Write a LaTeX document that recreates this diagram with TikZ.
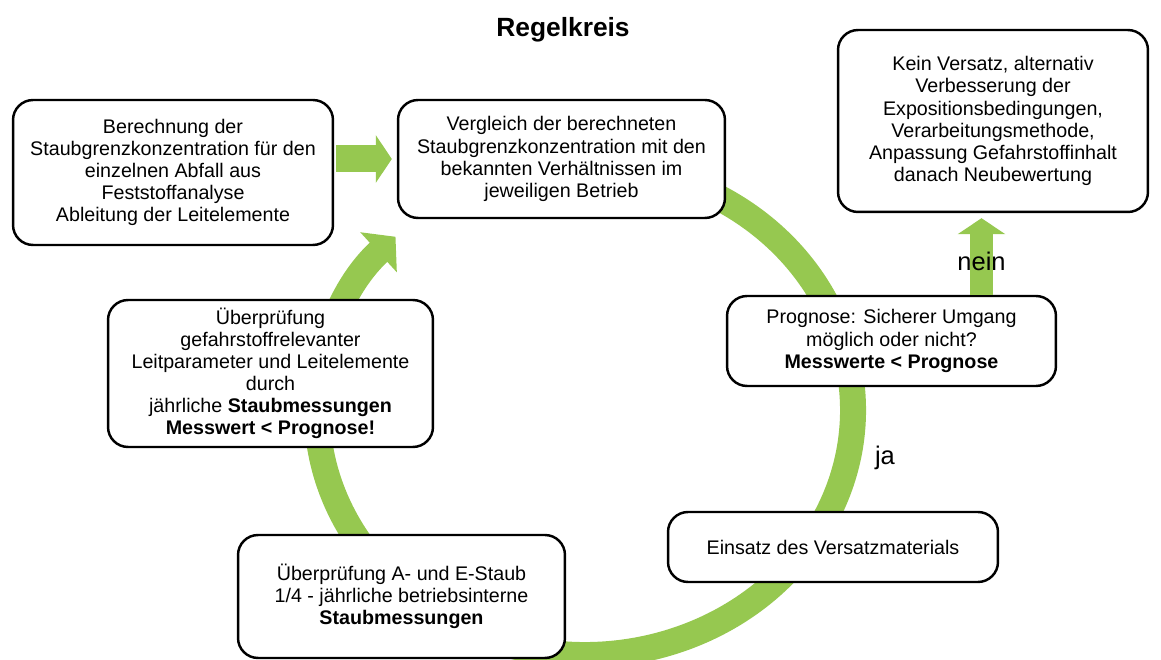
\documentclass[tikz,border=0pt]{standalone}
\usepackage{fontspec}
\setmainfont{Liberation Sans}
\usetikzlibrary{arrows.meta,calc}
\definecolor{ringgreen}{RGB}{150,200,80}

\begin{document}
\begin{tikzpicture}[
    x=0.02cm, y=0.02cm,
    box/.style={rectangle, draw, line width=1.4pt, rounded corners=0.4cm, fill=white, align=center, font=\fontsize{11.2}{12.6}\selectfont},
    ring/.style={draw=ringgreen, line width=0.52cm, -{Triangle[length=0.46cm, width=1.06cm]}},
    blockarrow/.style={draw=ringgreen, line width=0.54cm, -{Triangle[length=0.32cm, width=0.94cm]}},
    answer/.style={font=\fontsize{14.5}{16}\selectfont}
]
    \useasboundingbox (0,0) rectangle (1161,660);

    % Title
    \node[font=\bfseries\fontsize{15}{18}\selectfont] (title) at (563,630) {Regelkreis};

    % Control loop
    \coordinate (loop) at (585,250);
    \draw[ring] (loop) ++(62:268 and 245) arc[start angle=62, end angle=-225, x radius=268, y radius=245];

    % Steps of the loop
    \node[box, minimum width=6.4cm, minimum height=2.9cm] (berech) at (173,487.5) {Berechnung der\\Staubgrenzkonzentration für den\\einzelnen Abfall aus\\Feststoffanalyse\\Ableitung der Leitelemente};
    \node[box, minimum width=6.54cm, minimum height=2.36cm] (vergl) at (561.5,501) {Vergleich der berechneten\\Staubgrenzkonzentration mit den\\bekannten Verhältnissen im\\jeweiligen Betrieb};
    \node[box, minimum width=6.2cm, minimum height=3.64cm] (kein) at (993,539) {Kein Versatz, alternativ\\Verbesserung der\\Expositionsbedingungen,\\Verarbeitungsmethode,\\Anpassung Gefahrstoffinhalt\\danach Neubewertung};
    \node[box, minimum width=6.58cm, minimum height=1.8cm] (progn) at (891.5,319) {Prognose: Sicherer Umgang\\möglich oder nicht?\\\textbf{Messwerte < Prognose}};
    \node[box, minimum width=6.5cm, minimum height=2.94cm] (pruef) at (270.5,286.5) {Überprüfung\\gefahrstoffrelevanter\\Leitparameter und Leitelemente\\durch\\jährliche \textbf{Staubmessungen}\\\textbf{Messwert < Prognose!}};
    \node[box, minimum width=6.6cm, minimum height=1.4cm] (einsatz) at (833,113) {Einsatz des Versatzmaterials};
    \node[box, minimum width=6.54cm, minimum height=2.46cm] (staub) at (401.5,63.5) {Überprüfung A- und E-Staub\\1/4 - jährliche betriebsinterne\\\textbf{Staubmessungen}};

    % Answers
    \node[answer] (ja) at (885,202) {ja};

    % Arrows
    \draw[blockarrow] ($(berech.east |- vergl.west)+(2,0)$) -- ($(vergl.west)+(-5,0)$);
    \draw[blockarrow, line width=0.46cm] ($(kein.south |- progn.north)+(-11.5,0)$) -- node[answer, pos=0.43] (nein) {nein} ($(kein.south)+(-11.5,-5)$);
\end{tikzpicture}
\end{document}
